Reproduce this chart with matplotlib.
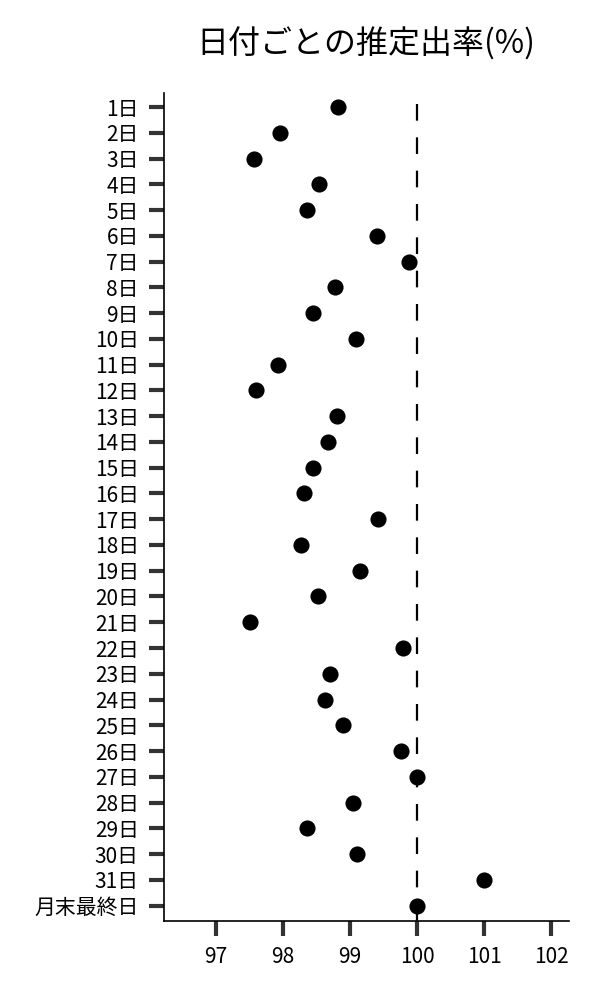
from matplotlib import pyplot as plt

plt.rcParams['font.family'] = ['Noto Sans CJK JP', 'DejaVu Sans']

##-----------------------------------------------------------------------------

days = [f'{d}日' for d in range(1, 32)] + ['月末最終日']

rates = [98.82, 97.95, 97.56, 98.53, 98.35, 99.40, 99.88, 98.77,
         98.45, 99.08, 97.92, 97.59, 98.81, 98.67, 98.44, 98.31,
         99.41, 98.27, 99.14, 98.52, 97.50, 99.79, 98.70, 98.62,
         98.89, 99.76, 100.0, 99.04, 98.36, 99.10, 101.0, 100.0]

x_ticks = [97, 98, 99, 100, 101, 102]
ref_value = 100

##-----------------------------------------------------------------------------

fig = plt.figure(figsize=(6, 10), dpi=100)
ax = fig.add_axes([0.273, 0.079, 0.675, 0.828])

pos = list(range(len(days)))
y_bottom = len(days) - 0.4
ax.scatter(rates, pos, s=135, color='black', zorder=3, linewidths=0)
# dashed reference line, drawn top-down so the pattern starts with a dash
ax.plot([ref_value, ref_value], [-0.12, y_bottom], color='black', lw=1.6,
        linestyle=(0, (7.5, 7.5)), zorder=2, clip_on=False)

ax.set_yticks(pos)
ax.set_yticklabels(days)
ax.set_ylim(y_bottom, -0.55)
ax.set_xticks(x_ticks)
ax.set_xlim(96.22, 102.26)

for side in ['top', 'right']:
    ax.spines[side].set_visible(False)
for side in ['left', 'bottom']:
    ax.spines[side].set_linewidth(1.2)

ax.tick_params(axis='both', length=11, width=3, color='#333333',
               labelsize=15, pad=7)

ax.set_title('日付ごとの推定出率(%)', fontsize=23, pad=28)

fig.savefig('out.png')
